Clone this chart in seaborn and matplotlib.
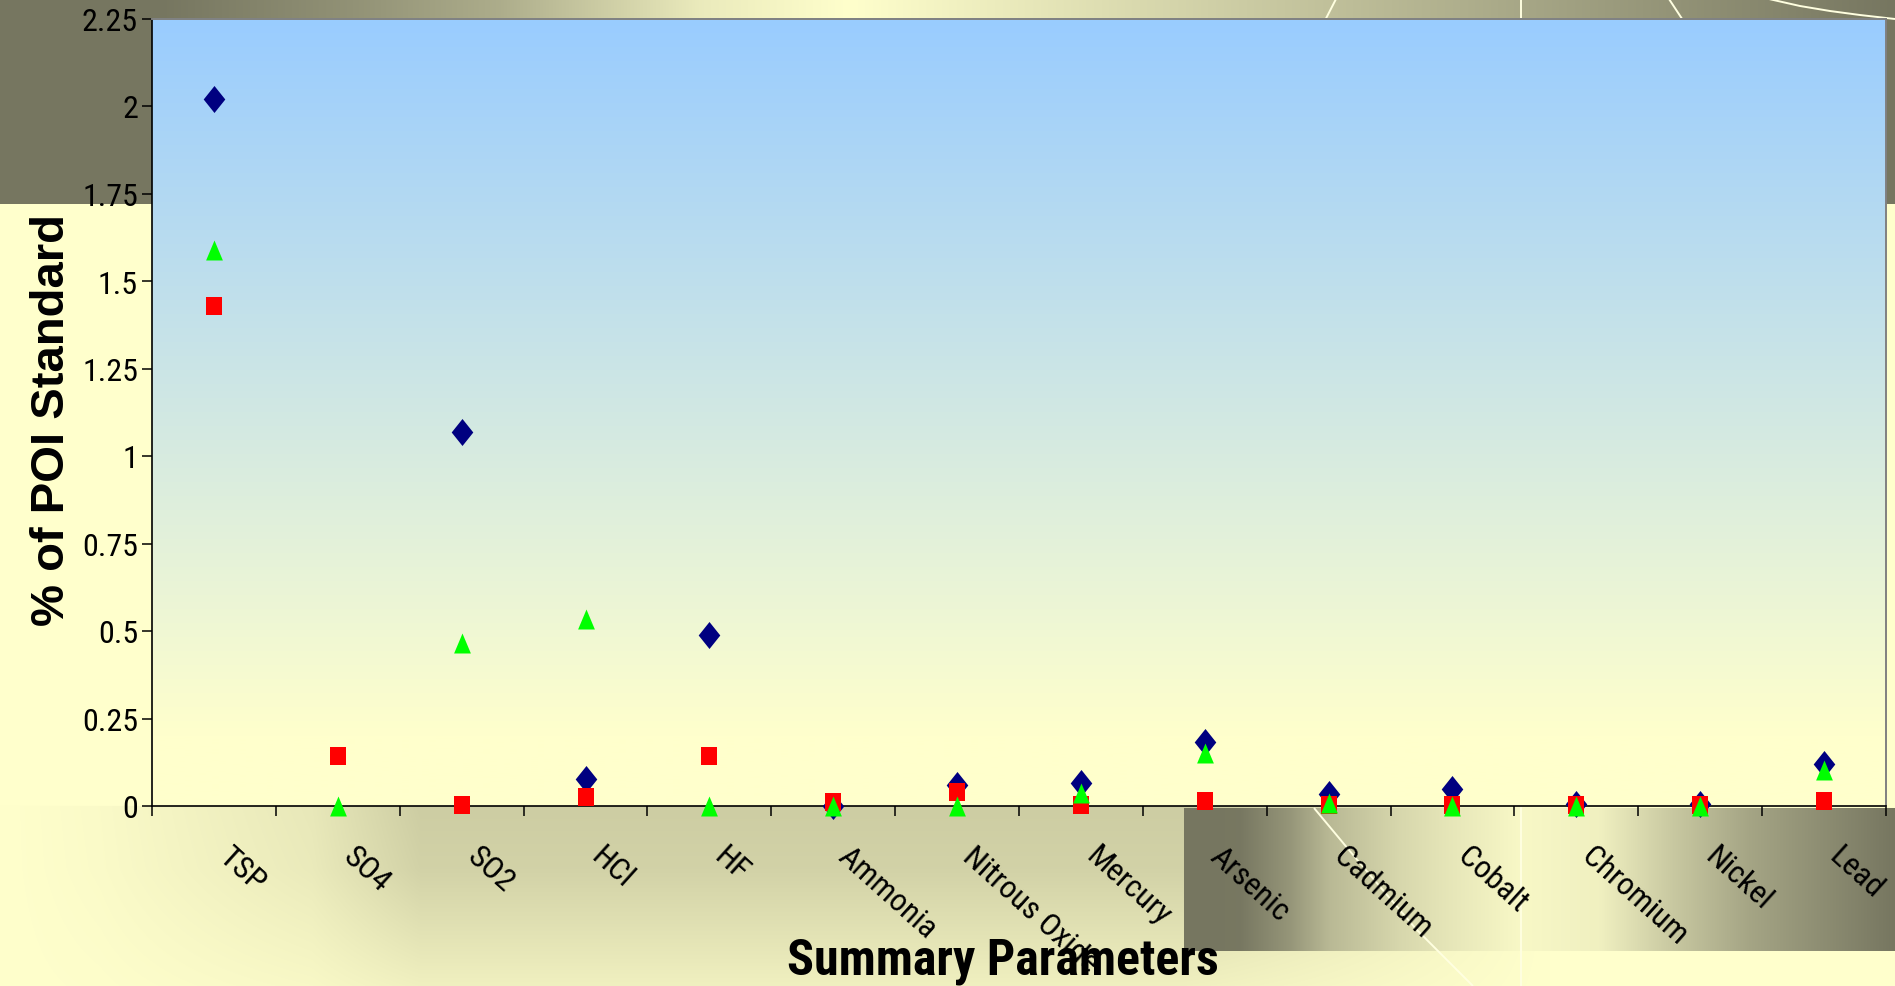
import numpy as np
import pandas as pd
import matplotlib
matplotlib.use("Agg")
import matplotlib.pyplot as plt
from matplotlib import font_manager
from matplotlib.path import Path
from matplotlib.transforms import ScaledTranslation
import seaborn as sns

# ---- data -------------------------------------------------------------
categories = ["TSP", "SO4", "SO2", "HCl", "HF", "Ammonia", "Nitrous Oxide",
              "Mercury", "Arsenic", "Cadmium", "Cobalt", "Chromium",
              "Nickel", "Lead"]
diamond_pct = [2.02, np.nan, 1.07, 0.077, 0.49, 0.0, 0.06, 0.065, 0.184,
               0.034, 0.049, 0.006, 0.006, 0.119]
square_pct = [1.43, 0.144, 0.003, 0.025, 0.144, 0.012, 0.041, 0.003, 0.013,
              0.003, 0.002, 0.003, 0.003, 0.013]
triangle_pct = [1.59, 0.0, 0.465, 0.534, 0.0, 0.0, 0.0, 0.038, 0.151,
                0.01, 0.0, 0.0, 0.0, 0.102]
y_ticks = [0, 0.25, 0.5, 0.75, 1, 1.25, 1.5, 1.75, 2, 2.25]
y_tick_labels = ["0", "0.25", "0.5", "0.75", "1", "1.25", "1.5", "1.75",
                 "2", "2.25"]

df = pd.DataFrame({"parameter": categories,
                   "diamond": diamond_pct,
                   "square": square_pct,
                   "triangle": triangle_pct})

# ---- figure geometry (pixels) ------------------------------------------
W, H = 1895, 987
L, R, T, B = 152, 1886, 19.5, 807

sns.set_style("white")
plt.rcParams.update({"text.color": "black", "xtick.color": "black",
                     "ytick.color": "black", "axes.labelcolor": "black"})

# prefer a condensed face for the axis text when one is installed
installed = {f.name for f in font_manager.fontManager.ttflist}
narrow = next((n for n in ["Liberation Sans Narrow", "Arial Narrow",
                           "Roboto Condensed", "Open Sans Condensed"]
               if n in installed), None)
if narrow:
    NARROW, tick_size, title_size, title_y = [narrow, "DejaVu Sans"], 23, 36, 975
else:
    NARROW, tick_size, title_size, title_y = ["Liberation Sans", "DejaVu Sans"], 20, 30, 945
WIDE = ["Liberation Sans", "DejaVu Sans"]

fig = plt.figure(figsize=(W / 100, H / 100), dpi=100)

# ---- slide backdrop ----------------------------------------------------
light = np.array([255, 255, 204]) / 255
dark = np.array([118, 118, 96]) / 255
khaki = np.array([205, 205, 163]) / 255
xs = np.arange(W) + 0.5
ys = np.arange(H) + 0.5

img = np.ones((H, W, 3)) * light

# upper band with a dark-light-dark sweep
d_top = np.interp(xs, [0, 160, 350, 500, 700, 850, 1895],
                  [1, 1, 0.8, 0.6, 0.15, 0, 1.0])
band = light[None, :] + (dark - light)[None, :] * d_top[:, None]
img[ys < 205] = band[None, :, :]

# lower area shading
wx = np.interp(xs, [0, 100, 312, 420, 1184, 1550, 1895],
               [0, 0.1, 0.46, 1, 1, 0, 0])
wy = np.interp(ys, [807, 870, 987], [1, 0.9, 0.3])
low = ys >= B
w = wy[low][:, None] * wx[None, :]
img[low] = light[None, None, :] + (khaki - light)[None, None, :] * w[:, :, None]

# lower right panel
d_blk = np.interp(xs, [1184, 1240, 1290, 1330, 1400, 1450, 1521, 1600,
                       1673, 1750, 1895],
                  [1, 0.99, 0.77, 0.51, 0.29, 0.18, 0.05, 0.11, 0.4,
                   0.66, 1.0])
blk_rows = (ys >= 809) & (ys <= 952)
blk_cols = xs >= 1184
blk = light[None, :] + (dark - light)[None, :] * d_blk[:, None]
img[np.ix_(blk_rows, blk_cols)] = blk[blk_cols][None, :, :]

bg = fig.add_axes([0, 0, 1, 1])
bg.imshow(img, extent=[0, W, H, 0], aspect="auto", interpolation="bilinear",
          zorder=0)

# decorative light strokes
stroke = dict(color="#ffffe0", lw=1.4, zorder=1, solid_capstyle="butt")
bg.plot([1336, 1318], [0, 35], **stroke)
bg.plot([1521, 1521], [0, H], **stroke)
bg.plot([1669, 1692], [0, 35], **stroke)
bg.plot([1769, 1800, 1830, 1860, 1895], [0, 7, 12, 16, 20], **stroke)
bg.plot([1314, 1359, 1416, 1473], [809, 863, 930, 987], **stroke)

# plot-area gradient: light blue at top fading to pale yellow
blue = np.array([153, 204, 255]) / 255
pale = np.array([255, 255, 204]) / 255
rows = np.linspace(T, B, 400)
t = np.clip((rows - T) / (737 - T), 0, 1)
grad = (blue[None, :] + (pale - blue)[None, :] * t[:, None])[:, None, :]
bg.imshow(grad, extent=[L, R, B, T], aspect="auto", interpolation="bilinear",
          zorder=2)
bg.set_xlim(0, W)
bg.set_ylim(H, 0)
bg.axis("off")

# ---- chart axes --------------------------------------------------------
ax = fig.add_axes([L / W, 1 - B / H, (R - L) / W, (B - T) / H])
ax.set_facecolor("none")

diamond = Path([(0, 1), (0.8, 0), (0, -1), (-0.8, 0), (0, 1)],
               [Path.MOVETO, Path.LINETO, Path.LINETO, Path.LINETO,
                Path.CLOSEPOLY])
square = Path([(-0.8, -1), (0.8, -1), (0.8, 1), (-0.8, 1), (-0.8, -1)],
              [Path.MOVETO, Path.LINETO, Path.LINETO, Path.LINETO,
               Path.CLOSEPOLY])
triangle = Path([(0, 1), (-0.84, -1), (0.84, -1), (0, 1)],
                [Path.MOVETO, Path.LINETO, Path.LINETO, Path.CLOSEPOLY])

common = dict(ax=ax, x="parameter", linewidth=0, clip_on=False, legend=False)
sns.scatterplot(data=df, y="diamond", marker=diamond, s=378,
                color="#000080", zorder=3, **common)
sns.scatterplot(data=df, y="square", marker=square, s=187,
                color="#ff0000", zorder=4, **common)
sns.scatterplot(data=df, y="triangle", marker=triangle, s=207,
                color="#00ff00", zorder=5, **common)

ax.set_xlim(-0.5, len(categories) - 0.5)
ax.set_ylim(0, 2.25)

# y axis
ax.set_yticks(y_ticks)
ax.set_yticklabels(y_tick_labels, family=NARROW, fontsize=tick_size)
ax.tick_params(axis="y", direction="out", length=7, width=1.1, pad=3,
               colors="black", left=True)

# x axis: ticks on category boundaries, labels at category centres
ax.set_xticks(np.arange(-0.5, len(categories), 1.0))
ax.set_xticklabels([""] * (len(categories) + 1))
ax.set_xticks(np.arange(len(categories)), minor=True)
ax.set_xticklabels(categories, minor=True, family=NARROW, fontsize=tick_size,
                   rotation=-42, ha="left", va="top", rotation_mode="anchor")
ax.tick_params(axis="x", which="major", direction="out", length=7,
               width=1.1, bottom=True, colors="black")
ax.tick_params(axis="x", which="minor", length=0, pad=25, colors="black")
shift = ScaledTranslation(0.19, 0, fig.dpi_scale_trans)
for lbl in ax.get_xticklabels(minor=True):
    lbl.set_transform(lbl.get_transform() + shift)

for side in ("left", "bottom"):
    ax.spines[side].set_color("black")
    ax.spines[side].set_linewidth(1.2)
for side in ("top", "right"):
    ax.spines[side].set_color("#808080")
    ax.spines[side].set_linewidth(1.4)

ax.set_xlabel("")
ax.set_ylabel("")

fig.text(52 / W, 1 - 420 / H, "% of POI Standard", rotation=90,
         ha="center", va="center", family=WIDE, fontweight="bold",
         fontsize=34, color="black")
fig.text(1003 / W, 1 - title_y / H, "Summary Parameters", ha="center",
         va="baseline", family=NARROW, fontweight="bold", fontsize=title_size,
         color="black")

fig.savefig("out.png", dpi=100)
